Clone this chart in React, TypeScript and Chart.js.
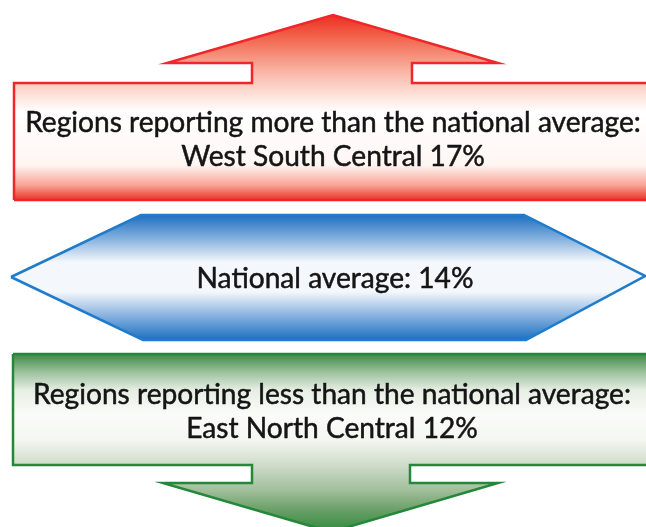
import React, { useEffect, useRef } from "react";
import { Chart, registerables } from "chart.js";

Chart.register(...registerables);

// ---- data ----
const categories = [
  "Regions reporting more than the national average:",
  "National average:",
  "Regions reporting less than the national average:",
];
const regions = ["West South Central", "", "East North Central"];
const values = [17, 14, 12];

// ---- layout (units: x 0-646, y 0-527 from top) ----
const upArrowX = [14, 14, 252, 252, 167, 333, 498, 412, 412, 660, 660, 14];
const upArrowY = [200, 83, 83, 63, 63, 15, 63, 63, 83, 83, 200, 200];
const hexX = [11, 141, 524, 645, 526, 143, 11];
const hexY = [277, 215, 215, 276, 340, 340, 277];
const downArrowX = [13, 660, 660, 410, 410, 498, 331, 163, 252, 252, 13, 13];
const downArrowY = [354, 354, 465, 465, 483, 483, 532, 483, 483, 465, 465, 354];

const textCenterX = [333, 335, 332];
const textBaselines = [[132, 166], [288], [404, 438]];

const redStops: [number, string][] = [
  [15, "#ec2f22"],
  [40, "#f36a52"],
  [70, "#f9b2a2"],
  [95, "#fde2da"],
  [112, "#ffffff"],
  [165, "#fff6f3"],
  [185, "#f8a496"],
  [200, "#ec3424"],
];
const blueStops: [number, string][] = [
  [215, "#1d6fc0"],
  [240, "#8ab4e0"],
  [262, "#f4f7fb"],
  [292, "#f4f7fb"],
  [315, "#8ab4e0"],
  [340, "#1d6fc0"],
];
const greenStops: [number, string][] = [
  [354, "#3d8a48"],
  [372, "#9cc09c"],
  [390, "#e6eee3"],
  [415, "#fbfcf9"],
  [440, "#f4f6f0"],
  [465, "#cfdcca"],
  [490, "#a2bf9c"],
  [510, "#6a9f68"],
  [532, "#2f8a3c"],
];

const makeGrad = (stops: [number, string][]) => (ctx: any) => {
  const chart = ctx.chart;
  const { chartArea, scales } = chart;
  if (!chartArea) return "rgba(0,0,0,0)";
  const ys = scales.y;
  const y0 = ys.getPixelForValue(stops[0][0]);
  const y1 = ys.getPixelForValue(stops[stops.length - 1][0]);
  const g = chart.ctx.createLinearGradient(0, y0, 0, y1);
  stops.forEach(([v, c]) => {
    const t = (ys.getPixelForValue(v) - y0) / (y1 - y0);
    g.addColorStop(Math.max(0, Math.min(1, t)), c);
  });
  return g;
};

const toPts = (xs: number[], ys: number[]) => xs.map((x, i) => ({ x, y: ys[i] }));

const textPlugin = {
  id: "infoText",
  afterDatasetsDraw(chart: any) {
    const c = chart.ctx;
    const xs = chart.scales.x;
    const ys = chart.scales.y;
    c.save();
    c.fillStyle = "#151515";
    c.strokeStyle = "#151515";
    c.lineWidth = 0.5;
    c.lineJoin = "round";
    c.textAlign = "center";
    c.textBaseline = "alphabetic";
    const family = "Lato, 'Open Sans', sans-serif";
    c.font = `26px ${family}`;
    const target = xs.getPixelForValue(641) - xs.getPixelForValue(25);
    const measured = c.measureText(categories[0]).width;
    const size = 26 * (target / measured);
    c.font = `${size.toFixed(2)}px ${family}`;
    categories.forEach((cat, i) => {
      const lines =
        regions[i] === ""
          ? [`${cat} ${values[i]}%`]
          : [cat, `${regions[i]} ${values[i]}%`];
      lines.forEach((line, j) => {
        const px = xs.getPixelForValue(textCenterX[i]);
        const py = ys.getPixelForValue(textBaselines[i][j]);
        c.fillText(line, px, py);
        c.strokeText(line, px, py);
      });
    });
    c.restore();
  },
};

export default function App() {
  const ref = useRef<HTMLCanvasElement | null>(null);
  useEffect(() => {
    if (!ref.current) return;
    const shapeDs = (label: string, xsA: number[], ysA: number[], border: string, stops: [number, string][]) => ({
      label,
      data: toPts(xsA, ysA),
      borderColor: border,
      borderWidth: 2.5,
      backgroundColor: makeGrad(stops),
      fill: "shape",
      tension: 0,
      pointRadius: 0,
      borderJoinStyle: "miter",
      showLine: true,
    });
    const chart = new Chart(ref.current, {
      type: "scatter",
      data: {
        datasets: [
          shapeDs("above", upArrowX, upArrowY, "#f0262a", redStops),
          shapeDs("average", hexX, hexY, "#1f7ccc", blueStops),
          shapeDs("below", downArrowX, downArrowY, "#24873a", greenStops),
        ] as any,
      },
      options: {
        animation: false,
        responsive: false,
        layout: { padding: 0 },
        plugins: { legend: { display: false }, tooltip: { enabled: false } },
        scales: {
          x: { type: "linear", min: 0, max: 646, display: false },
          y: { type: "linear", min: 0, max: 527, reverse: true, display: false },
        },
      } as any,
      plugins: [textPlugin],
    });
    return () => chart.destroy();
  }, []);
  return (
    <div style={{ position: "absolute", left: 0, top: 0, width: 646, height: 527, background: "#fff" }}>
      <canvas ref={ref} width={646} height={527} />
    </div>
  );
}
